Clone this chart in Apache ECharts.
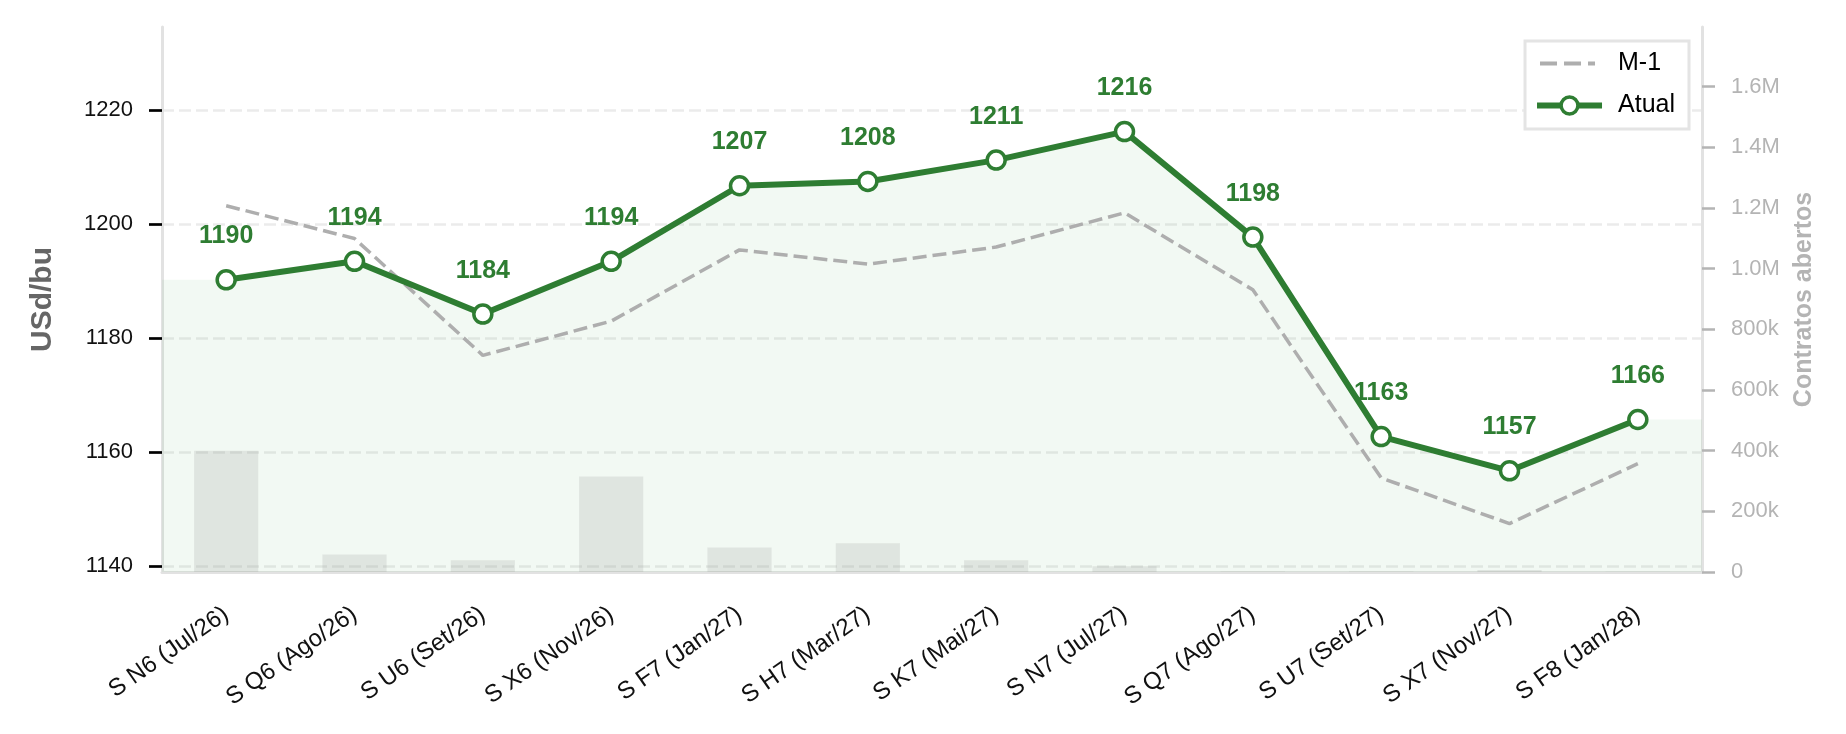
<!DOCTYPE html>
<html>
<head>
<meta charset="utf-8">
<title>Curva soja</title>
<script src="https://cdn.jsdelivr.net/npm/echarts@6/dist/echarts.min.js"></script>
<style>
    html, body { margin: 0; padding: 0; background: #fff; }
    #chart { width: 1846px; height: 734px; }
</style>
</head>
<body>
<div id="chart"></div>
<script>
// contratos da curva
var categories = ["S N6 (Jul/26)", "S Q6 (Ago/26)", "S U6 (Set/26)", "S X6 (Nov/26)", "S F7 (Jan/27)", "S H7 (Mar/27)",
    "S K7 (Mai/27)", "S N7 (Jul/27)", "S Q7 (Ago/27)", "S U7 (Set/27)", "S X7 (Nov/27)", "S F8 (Jan/28)"];

// USd/bu
var atual = [1190.25, 1193.5, 1184.25, 1193.5, 1206.75, 1207.5, 1211.25, 1216.25, 1197.75, 1162.75, 1156.75, 1165.75];
var mesAnterior = [1203.25, 1197.5, 1177, 1183, 1195.5, 1193, 1196, 1202, 1188.5, 1155.5, 1147.5, 1158];

// contratos abertos
var openInterest = [400000, 58000, 39000, 315000, 81000, 95000, 39000, 19000, 2000, 1500, 7000, 1000];

var priceTicks = [1140, 1160, 1180, 1200, 1220];
var oiTicks = [0, 200000, 400000, 600000, 800000, 1000000, 1200000, 1400000, 1600000];

var GREEN = "#2e7d32";
var GRAY = "#aeaeae";
var FONT = "Liberation Sans, Arial, sans-serif";

// area below Atual, stretched flat to the plot edges
var fillData = [[-0.5, atual[0]]];
atual.forEach(function (v, i) { fillData.push([i, v]); });
fillData.push([atual.length - 0.5, atual[atual.length - 1]]);

function oiLabel(v) {
    if (v === 0) return "0";
    if (v >= 1000000) return (v / 1000000).toFixed(1) + "M";
    return Math.round(v / 1000) + "k";
}

// dashed legend handle for M-1 (corner specks keep the 65x21 box)
var dashIcon = "path://M0,0h0.1v0.1h-0.1z M65,21h-0.1v-0.1h0.1z M3,8.4h17v4.2h-17z M27,8.4h17v4.2h-17z M51,8.4h7v4.2h-7z";

var chart = echarts.init(document.getElementById("chart"));
chart.setOption({
    animation: false,
    backgroundColor: "#fff",
    textStyle: { fontFamily: FONT },
    grid: { left: 162, right: 144, top: 27, bottom: 162 },
    legend: {
        data: [
            { name: "M-1", icon: dashIcon, itemStyle: { color: GRAY } },
            { name: "Atual", lineStyle: { width: 6, color: GREEN }, itemStyle: { color: "#fff", borderColor: GREEN, borderWidth: 3.5 } }
        ],
        orient: "vertical",
        right: 157,
        top: 41,
        padding: [10, 14, 11, 9],
        itemWidth: 65,
        itemHeight: 21,
        itemGap: 17,
        backgroundColor: "#fff",
        borderColor: "#e4e4e4",
        borderWidth: 3,
        borderRadius: 0,
        textStyle: { fontSize: 25, color: "#000", fontFamily: FONT, padding: [0, 0, 0, 11] }
    },
    xAxis: [{
        type: "category",
        data: categories,
        boundaryGap: true,
        axisLine: { onZero: false, lineStyle: { color: "#e2e2e2", width: 3 } },
        axisTick: { alignWithLabel: true, length: 13, lineStyle: { color: "#000", width: 2.7 } },
        axisLabel: { rotate: 35, fontSize: 24, color: "#111", margin: 40, fontFamily: FONT, interval: 0 }
    }, {
        type: "value",
        min: -0.5,
        max: categories.length - 0.5,
        show: false
    }],
    yAxis: [{
        type: "value",
        position: "left",
        min: 1139,
        max: 1234.6,
        name: "USd/bu",
        nameLocation: "middle",
        nameGap: 104,
        nameTextStyle: { fontSize: 30, fontWeight: "bold", color: "#666", fontFamily: FONT },
        axisLine: { show: true, onZero: false, lineStyle: { color: "#e2e2e2", width: 3 } },
        axisTick: { show: true, length: 13, customValues: priceTicks, lineStyle: { color: "#000", width: 2.7 } },
        axisLabel: {
            fontSize: 22, color: "#111", margin: 29, customValues: priceTicks, fontFamily: FONT,
            formatter: function (v) { return String(v); }
        },
        splitLine: { show: true, lineStyle: { color: "#ebebeb", width: 2.5, type: [12, 5] } }
    }, {
        type: "value",
        position: "right",
        min: 0,
        max: 1797000,
        name: "Contratos abertos",
        nameLocation: "middle",
        nameGap: 90,
        nameTextStyle: { fontSize: 25, fontWeight: "bold", color: "#b4b4b4", fontFamily: FONT },
        axisLine: { show: true, onZero: false, lineStyle: { color: "#e2e2e2", width: 3 } },
        axisTick: { show: true, length: 13, customValues: oiTicks, lineStyle: { color: "#b4b4b4", width: 2.5 } },
        axisLabel: { fontSize: 22, color: "#b4b4b4", margin: 29, customValues: oiTicks, formatter: oiLabel, fontFamily: FONT },
        splitLine: { show: false }
    }],
    series: [{
        name: "fill",
        type: "line",
        xAxisIndex: 1,
        yAxisIndex: 0,
        data: fillData,
        symbol: "none",
        silent: true,
        lineStyle: { width: 0 },
        areaStyle: { color: "rgba(76,175,80,0.07)", opacity: 1, origin: "start" },
        z: 1
    }, {
        name: "OI",
        type: "bar",
        xAxisIndex: 0,
        yAxisIndex: 1,
        data: openInterest,
        barWidth: "50%",
        itemStyle: { color: "rgba(150,150,150,0.2)" },
        z: 2
    }, {
        name: "M-1",
        type: "line",
        yAxisIndex: 0,
        data: mesAnterior,
        symbol: "none",
        lineStyle: { color: GRAY, width: 3.5, type: [14, 6] },
        itemStyle: { color: GRAY },
        z: 3
    }, {
        name: "Atual",
        type: "line",
        yAxisIndex: 0,
        data: atual,
        symbol: "circle",
        symbolSize: 18,
        lineStyle: { color: GREEN, width: 6 },
        itemStyle: { color: "#fff", borderColor: GREEN, borderWidth: 3.5 },
        label: {
            show: true,
            position: "top",
            distance: 20,
            fontSize: 25,
            fontWeight: "bold",
            color: GREEN,
            fontFamily: FONT,
            formatter: function (p) { return Math.round(p.value); }
        },
        z: 4
    }]
});
</script>
</body>
</html>
